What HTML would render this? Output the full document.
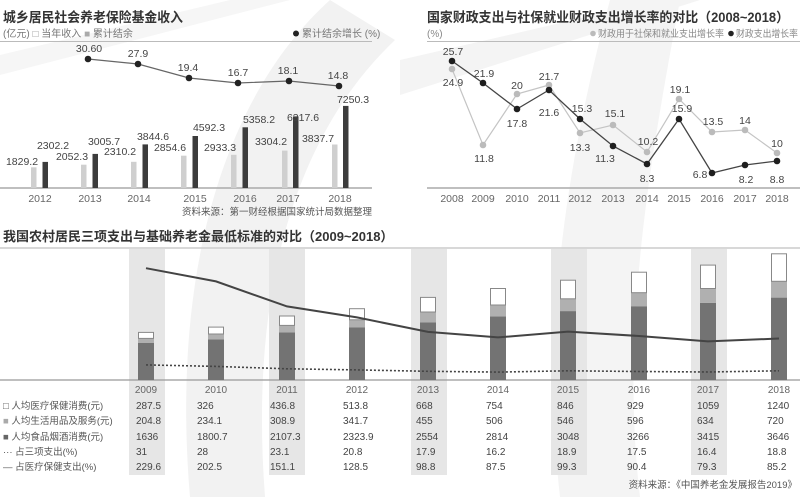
<!DOCTYPE html>
<html><head><meta charset="utf-8"><style>
html,body{margin:0;padding:0;background:#fff;}
svg{display:block;font-family:"Liberation Sans","Noto Sans CJK SC",sans-serif;}
</style></head><body>
<svg width="800" height="497" viewBox="0 0 800 497" xmlns="http://www.w3.org/2000/svg">
<!-- watermark -->
<path d="M330 0 C230 90 170 260 190 497 L265 497 C250 300 290 140 395 40 Z" fill="#f2f2f2"/>
<path d="M610 0 L680 0 C650 160 620 330 640 497 L560 497 C540 320 570 150 610 0 Z" fill="#f4f4f4"/>
<path d="M0 55 L230 0 L290 0 L0 75 Z" fill="#f6f6f6"/>
<path d="M400 60 L660 0 L700 0 L400 95 Z" fill="#f4f4f4"/>

<!-- TOP LEFT -->
<text x="3" y="22" font-size="13.5" font-weight="bold" fill="#333" textLength="180" lengthAdjust="spacingAndGlyphs">城乡居民社会养老保险基金收入</text>
<text x="3" y="37" font-size="10" fill="#777">(亿元) <tspan fill="#999">□</tspan> 当年收入 <tspan fill="#aaa">■</tspan> 累计结余</text>
<circle cx="296" cy="33.5" r="3" fill="#222"/>
<text x="302" y="37" font-size="10" fill="#777">累计结余增长 (%)</text>
<line x1="0" y1="41.5" x2="372" y2="41.5" stroke="#bbb" stroke-width="1"/>
<line x1="0" y1="188" x2="372" y2="188" stroke="#aaa" stroke-width="1.5"/>
<g fill="#cfcfcf">
<rect x="31" y="167.3" width="5.5" height="20.7"/><rect x="81" y="164.7" width="5.5" height="23.3"/><rect x="131" y="161.8" width="5.5" height="26.2"/><rect x="181" y="155.7" width="5.5" height="32.3"/><rect x="231" y="154.8" width="5.5" height="33.2"/><rect x="282" y="150.6" width="5.5" height="37.4"/><rect x="332" y="144.5" width="5.5" height="43.5"/>
</g>
<g fill="#3c3c3c">
<rect x="42.5" y="161.9" width="5.5" height="26.1"/><rect x="92.5" y="153.9" width="5.5" height="34.1"/><rect x="142.5" y="144.4" width="5.5" height="43.6"/><rect x="192.5" y="136" width="5.5" height="52"/><rect x="242.5" y="127.3" width="5.5" height="60.7"/><rect x="293" y="116.4" width="5.5" height="71.6"/><rect x="343" y="105.9" width="5.5" height="82.1"/>
</g>
<g font-size="10.5" fill="#444" text-anchor="middle">
<text x="53" y="149">2302.2</text><text x="104" y="145">3005.7</text><text x="153" y="140">3844.6</text><text x="209" y="131">4592.3</text><text x="259" y="123">5358.2</text><text x="303" y="121">6317.6</text><text x="353" y="103">7250.3</text>
<text x="22" y="165">1829.2</text><text x="72" y="160">2052.3</text><text x="120" y="155">2310.2</text><text x="170" y="151">2854.6</text><text x="220" y="151">2933.3</text><text x="271" y="145">3304.2</text><text x="318" y="142">3837.7</text>
</g>
<polyline points="88,59 138,64 189,78 238,83 289,81 339,86" fill="none" stroke="#666" stroke-width="1.2"/>
<g fill="#222"><circle cx="88" cy="59" r="3.3"/><circle cx="138" cy="64" r="3.3"/><circle cx="189" cy="78" r="3.3"/><circle cx="238" cy="83" r="3.3"/><circle cx="289" cy="81" r="3.3"/><circle cx="339" cy="86" r="3.3"/></g>
<g font-size="10.5" fill="#444" text-anchor="middle">
<text x="89" y="52">30.60</text><text x="138" y="57">27.9</text><text x="188" y="71">19.4</text><text x="238" y="76">16.7</text><text x="288" y="74">18.1</text><text x="338" y="79">14.8</text>
</g>
<g font-size="10.5" fill="#666" text-anchor="middle">
<text x="40" y="202">2012</text><text x="90" y="202">2013</text><text x="139" y="202">2014</text><text x="195" y="202">2015</text><text x="245" y="202">2016</text><text x="288" y="202">2017</text><text x="340" y="202">2018</text>
</g>
<text x="372" y="215" font-size="9.5" fill="#555" text-anchor="end">资料来源：第一财经根据国家统计局数据整理</text>

<!-- TOP RIGHT -->
<text x="427" y="22" font-size="13.5" font-weight="bold" fill="#333" textLength="362" lengthAdjust="spacingAndGlyphs">国家财政支出与社保就业财政支出增长率的对比（2008~2018）</text>
<text x="427" y="37" font-size="10" fill="#888">(%)</text>
<circle cx="593" cy="33.5" r="2.8" fill="#bbb"/>
<text x="598" y="37" font-size="9.5" fill="#888" textLength="126" lengthAdjust="spacingAndGlyphs">财政用于社保和就业支出增长率</text>
<circle cx="731" cy="33.5" r="2.8" fill="#222"/>
<text x="736" y="37" font-size="9.5" fill="#888" textLength="62" lengthAdjust="spacingAndGlyphs">财政支出增长率</text>
<line x1="427" y1="41.5" x2="800" y2="41.5" stroke="#bbb" stroke-width="1"/>
<line x1="427" y1="188" x2="800" y2="188" stroke="#aaa" stroke-width="1.5"/>
<polyline points="452,69 483,145 517,94 549,85 580,133 613,125 647,152 679,99 712,132 745,130 777,153" fill="none" stroke="#c4c4c4" stroke-width="1.2"/>
<g fill="#bbb"><circle cx="452" cy="69" r="3.3"/><circle cx="483" cy="145" r="3.3"/><circle cx="517" cy="94" r="3.3"/><circle cx="549" cy="85" r="3.3"/><circle cx="580" cy="133" r="3.3"/><circle cx="613" cy="125" r="3.3"/><circle cx="647" cy="152" r="3.3"/><circle cx="679" cy="99" r="3.3"/><circle cx="712" cy="132" r="3.3"/><circle cx="745" cy="130" r="3.3"/><circle cx="777" cy="153" r="3.3"/></g>
<polyline points="452,61 483,83 517,109 549,90 580,119 613,146 647,164 679,119 712,173 745,165 777,161" fill="none" stroke="#444" stroke-width="1.3"/>
<g fill="#1e1e1e"><circle cx="452" cy="61" r="3.3"/><circle cx="483" cy="83" r="3.3"/><circle cx="517" cy="109" r="3.3"/><circle cx="549" cy="90" r="3.3"/><circle cx="580" cy="119" r="3.3"/><circle cx="613" cy="146" r="3.3"/><circle cx="647" cy="164" r="3.3"/><circle cx="679" cy="119" r="3.3"/><circle cx="712" cy="173" r="3.3"/><circle cx="745" cy="165" r="3.3"/><circle cx="777" cy="161" r="3.3"/></g>
<g font-size="10.5" fill="#444" text-anchor="middle">
<text x="453" y="55">25.7</text><text x="453" y="86">24.9</text><text x="484" y="77">21.9</text><text x="484" y="162">11.8</text><text x="517" y="89">20</text><text x="517" y="127">17.8</text><text x="549" y="80">21.7</text><text x="549" y="116">21.6</text><text x="582" y="112">15.3</text><text x="580" y="151">13.3</text><text x="615" y="117">15.1</text><text x="605" y="162">11.3</text><text x="648" y="145">10.2</text><text x="647" y="182">8.3</text><text x="680" y="93">19.1</text><text x="682" y="112">15.9</text><text x="713" y="125">13.5</text><text x="700" y="178">6.8</text><text x="745" y="124">14</text><text x="746" y="183">8.2</text><text x="777" y="147">10</text><text x="777" y="183">8.8</text>
</g>
<g font-size="10.5" fill="#666" text-anchor="middle">
<text x="452" y="202">2008</text><text x="483" y="202">2009</text><text x="517" y="202">2010</text><text x="549" y="202">2011</text><text x="580" y="202">2012</text><text x="613" y="202">2013</text><text x="647" y="202">2014</text><text x="679" y="202">2015</text><text x="712" y="202">2016</text><text x="745" y="202">2017</text><text x="777" y="202">2018</text>
</g>

<!-- BOTTOM -->
<text x="3" y="241" font-size="13" font-weight="bold" fill="#333">我国农村居民三项支出与基础养老金最低标准的对比（2009~2018）</text>
<line x1="0" y1="248" x2="800" y2="248" stroke="#ccc" stroke-width="1.5"/>
<g fill="#e6e6e6">
<rect x="129" y="249" width="36" height="226"/><rect x="269" y="249" width="36" height="226"/><rect x="411" y="249" width="36" height="226"/><rect x="551" y="249" width="36" height="226"/><rect x="691" y="249" width="36" height="226"/>
</g>
<line x1="0" y1="380" x2="800" y2="380" stroke="#999" stroke-width="1.2"/>
<g fill="#737373">
<rect x="138" y="343" width="16" height="37"/><rect x="208" y="339.3" width="16" height="40.7"/><rect x="279" y="332.4" width="16" height="47.6"/><rect x="349" y="327.5" width="16" height="52.5"/><rect x="420" y="322.3" width="16" height="57.7"/><rect x="490" y="316.4" width="16" height="63.6"/><rect x="560" y="311.1" width="16" height="68.9"/><rect x="631" y="306.2" width="16" height="73.8"/><rect x="700" y="302.8" width="16" height="77.2"/><rect x="771" y="297.6" width="16" height="82.4"/>
</g>
<g fill="#b0b0b0">
<rect x="138" y="338.4" width="16" height="4.6"/><rect x="208" y="334" width="16" height="5.3"/><rect x="279" y="325.4" width="16" height="7"/><rect x="349" y="319.8" width="16" height="7.7"/><rect x="420" y="312" width="16" height="10.3"/><rect x="490" y="305" width="16" height="11.4"/><rect x="560" y="298.8" width="16" height="12.3"/><rect x="631" y="292.7" width="16" height="13.5"/><rect x="700" y="288.5" width="16" height="14.3"/><rect x="771" y="281.3" width="16" height="16.3"/>
</g>
<g fill="#fff" stroke="#888" stroke-width="1">
<rect x="138.5" y="332.4" width="15" height="6"/><rect x="208.5" y="327.1" width="15" height="6.9"/><rect x="279.5" y="316" width="15" height="9.4"/><rect x="349.5" y="308.7" width="15" height="11.1"/><rect x="420.5" y="297.4" width="15" height="14.6"/><rect x="490.5" y="288.5" width="15" height="16.5"/><rect x="560.5" y="280.2" width="15" height="18.6"/><rect x="631.5" y="272.2" width="15" height="20.5"/><rect x="700.5" y="265.1" width="15" height="23.4"/><rect x="771.5" y="253.8" width="15" height="27.5"/>
</g>
<polyline points="146,268.2 216,281.4 287,306.4 357,317.4 428,331.9 498,337.4 568,331.6 639,336 708,341.4 779,338.5" fill="none" stroke="#444" stroke-width="2"/>
<polyline points="146,364.9 216,366.4 287,368.8 357,369.9 428,371.3 498,372.1 568,370.8 639,371.5 708,372 779,370.8" fill="none" stroke="#444" stroke-width="1.6" stroke-dasharray="2,2"/>
<g font-size="10" fill="#666" text-anchor="middle">
<text x="146" y="393">2009</text><text x="216" y="393">2010</text><text x="287" y="393">2011</text><text x="357" y="393">2012</text><text x="428" y="393">2013</text><text x="498" y="393">2014</text><text x="568" y="393">2015</text><text x="639" y="393">2016</text><text x="708" y="393">2017</text><text x="779" y="393">2018</text>
</g>
<g font-size="9.5" fill="#555">
<text x="3" y="409">□ 人均医疗保健消费(元)</text>
<text x="3" y="424"><tspan fill="#aaa">■</tspan> 人均生活用品及服务(元)</text>
<text x="3" y="440"><tspan fill="#666">■</tspan> 人均食品烟酒消费(元)</text>
<text x="3" y="455">··· 占三项支出(%)</text>
<text x="3" y="470">— 占医疗保健支出(%)</text>
</g>
<g font-size="10" fill="#444">
<g transform="translate(136,0)"><text y="409">287.5</text><text y="424">204.8</text><text y="440">1636</text><text y="455">31</text><text y="470">229.6</text></g>
<g transform="translate(197,0)"><text y="409">326</text><text y="424">234.1</text><text y="440">1800.7</text><text y="455">28</text><text y="470">202.5</text></g>
<g transform="translate(270,0)"><text y="409">436.8</text><text y="424">308.9</text><text y="440">2107.3</text><text y="455">23.1</text><text y="470">151.1</text></g>
<g transform="translate(343,0)"><text y="409">513.8</text><text y="424">341.7</text><text y="440">2323.9</text><text y="455">20.8</text><text y="470">128.5</text></g>
<g transform="translate(416,0)"><text y="409">668</text><text y="424">455</text><text y="440">2554</text><text y="455">17.9</text><text y="470">98.8</text></g>
<g transform="translate(486,0)"><text y="409">754</text><text y="424">506</text><text y="440">2814</text><text y="455">16.2</text><text y="470">87.5</text></g>
<g transform="translate(557,0)"><text y="409">846</text><text y="424">546</text><text y="440">3048</text><text y="455">18.9</text><text y="470">99.3</text></g>
<g transform="translate(627,0)"><text y="409">929</text><text y="424">596</text><text y="440">3266</text><text y="455">17.5</text><text y="470">90.4</text></g>
<g transform="translate(697,0)"><text y="409">1059</text><text y="424">634</text><text y="440">3415</text><text y="455">16.4</text><text y="470">79.3</text></g>
<g transform="translate(767,0)"><text y="409">1240</text><text y="424">720</text><text y="440">3646</text><text y="455">18.8</text><text y="470">85.2</text></g>
</g>
<text x="797" y="488" font-size="9.5" fill="#555" text-anchor="end">资料来源：《中国养老金发展报告2019》</text>
</svg>
</body></html>
